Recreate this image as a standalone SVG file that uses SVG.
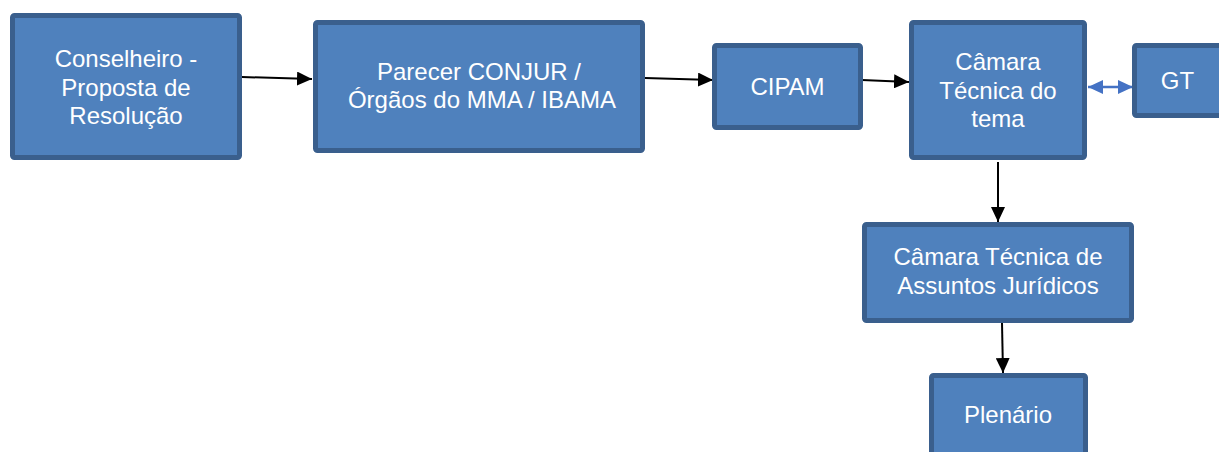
<svg xmlns="http://www.w3.org/2000/svg" width="1219" height="452" viewBox="0 0 1219 452">
<defs>
<style>
.box{fill:#4f81bd;stroke:#3a5f8d;stroke-width:5}
.t{font-family:"Liberation Sans",Arial,sans-serif;font-size:24px;fill:#ffffff;text-anchor:middle}
.c{stroke:#000;stroke-width:2;fill:none;marker-end:url(#ah)}
.d{stroke:#4472c4;stroke-width:2.5;fill:none;marker-end:url(#bh);marker-start:url(#bs)}
</style>
<marker id="ah" markerUnits="userSpaceOnUse" markerWidth="16" markerHeight="14" refX="15" refY="7" orient="auto"><path d="M0,0 L15,7 L0,14 Z" fill="#000"/></marker>
<marker id="bh" markerUnits="userSpaceOnUse" markerWidth="16" markerHeight="14" refX="15" refY="7" orient="auto"><path d="M0,0 L15,7 L0,14 Z" fill="#4472c4"/></marker>
<marker id="bs" markerUnits="userSpaceOnUse" markerWidth="16" markerHeight="14" refX="0" refY="7" orient="auto"><path d="M15,0 L0,7 L15,14 Z" fill="#4472c4"/></marker>
</defs>
<g id="connectors">
<line class="c" x1="242" y1="77" x2="312" y2="79"/>
<line class="c" x1="645" y1="78" x2="713" y2="80"/>
<line class="c" x1="862" y1="80" x2="909" y2="82"/>
<line class="d" x1="1088" y1="87" x2="1133" y2="87"/>
<line class="c" x1="998" y1="162" x2="998" y2="222"/>
<line class="c" x1="1002" y1="323" x2="1003" y2="373"/>
</g>
<g id="n1"><rect class="box" x="12.5" y="15.5" width="227" height="142" rx="2"/>
<text class="t" x="126" y="67">Conselheiro -</text><text class="t" x="126" y="96">Proposta de</text><text class="t" x="126" y="124">Resolução</text></g>
<g id="n2"><rect class="box" x="315.5" y="22.5" width="327" height="128" rx="2"/>
<text class="t" x="479" y="80">Parecer CONJUR /</text><text class="t" x="482" y="108">Órgãos do MMA / IBAMA</text></g>
<g id="n3"><rect class="box" x="714.5" y="45.5" width="146" height="82" rx="2"/>
<text class="t" x="787.5" y="95">CIPAM</text></g>
<g id="n4"><rect class="box" x="911.5" y="22.5" width="173" height="135" rx="2"/>
<text class="t" x="998" y="70">Câmara</text><text class="t" x="998" y="99">Técnica do</text><text class="t" x="998" y="127">tema</text></g>
<g id="n5"><rect class="box" x="1134.5" y="45.5" width="90" height="70" rx="2"/>
<text class="t" x="1177.5" y="89">GT</text></g>
<g id="n6"><rect class="box" x="864.5" y="224.5" width="267" height="96" rx="2"/>
<text class="t" x="998" y="265">Câmara Técnica de</text><text class="t" x="998" y="294">Assuntos Jurídicos</text></g>
<g id="n7"><rect class="box" x="931.5" y="375.5" width="154" height="100" rx="2"/>
<text class="t" x="1008" y="423">Plenário</text></g>
</svg>
